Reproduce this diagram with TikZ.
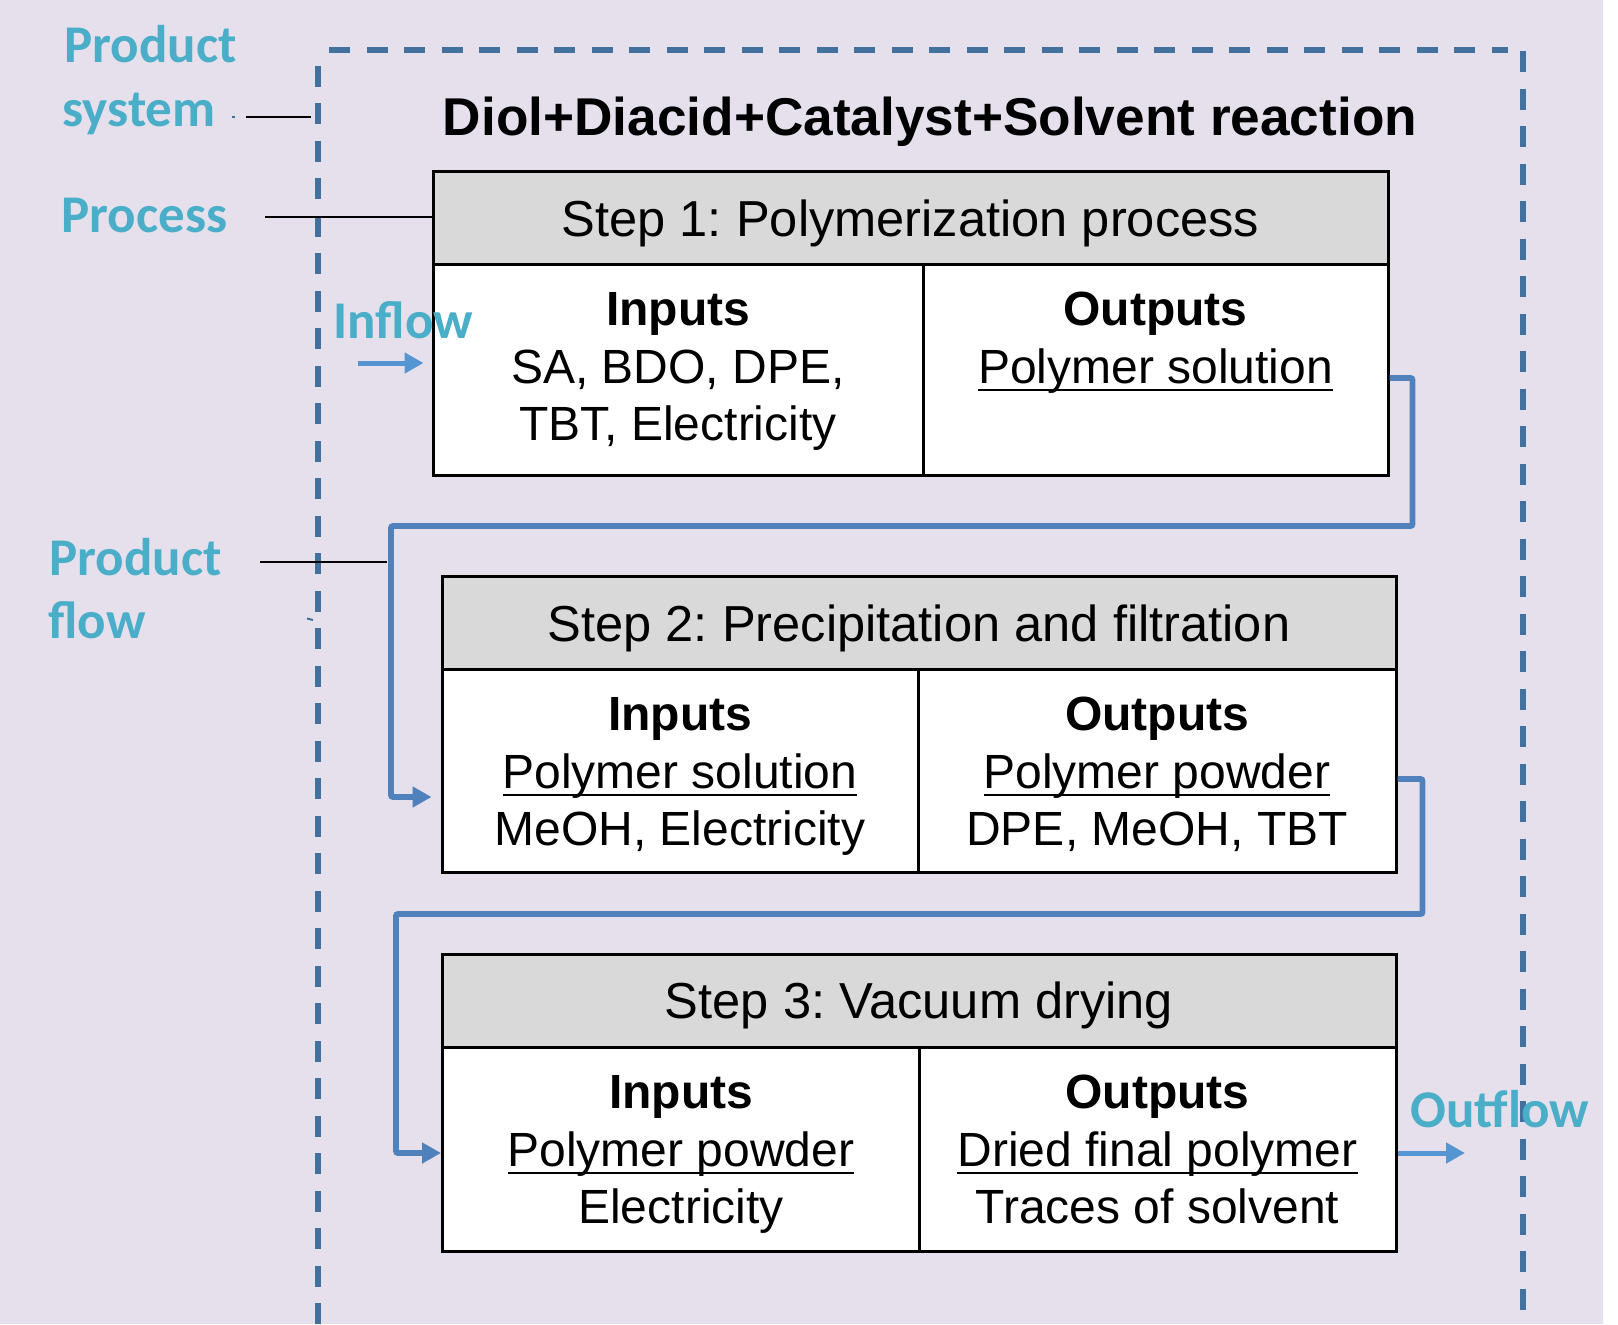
\documentclass[tikz,border=0pt]{standalone}
\usepackage{fontspec}
\setmainfont{Liberation Sans}
\newfontfamily\tagfont{Carlito}
\usetikzlibrary{arrows.meta,fit}
\definecolor{bglilac}{HTML}{E6E0EC}
\definecolor{hdrgray}{HTML}{D9D9D9}
\definecolor{tagblue}{HTML}{4BAEC8}
\definecolor{sysblue}{HTML}{41719C}
\definecolor{flowblue}{HTML}{4F81BD}
\definecolor{edgeblue}{HTML}{5596D2}
% underline at a fixed distance below the baseline (crosses descenders)
\newcommand\undl[1]{\setbox0=\hbox{#1}\rlap{\rule[-4.2pt]{\wd0}{1.1pt}}\box0}
\frenchspacing

\begin{document}
\begin{tikzpicture}[x=0.5pt,y=-0.5pt,
  cellbox/.style={draw=black,line width=1.5pt,fill=white,inner sep=0pt},
  hdrbox/.style={cellbox,fill=hdrgray},
  hdrtext/.style={font=\fontsize{25.3}{30}\selectfont,anchor=base,inner sep=0pt},
  headtext/.style={font=\bfseries\fontsize{24}{29}\selectfont,anchor=base,inner sep=0pt},
  itemtext/.style={font=\fontsize{24}{29}\selectfont,anchor=base,inner sep=0pt},
  tag/.style={font=\tagfont\bfseries\fontsize{26.5}{31}\selectfont,text=tagblue,anchor=base west,inner sep=0pt},
  sysline/.style={draw=sysblue,line width=2.8pt,dash pattern=on 10.5pt off 8.25pt},
  flowline/.style={draw=flowblue,line width=2.9pt,-{Triangle[length=9.5pt,width=10pt]}},
  edgeflow/.style={draw=edgeblue,line width=2.5pt,-{Triangle[length=9.5pt,width=10pt]}},
  leader/.style={draw=black,line width=0.9pt},
]
\useasboundingbox (0,0) rectangle (1618,1324);
\fill[white] (0,0) rectangle (1618,1324);
\fill[bglilac] (0,0) rectangle (1603,1324);

% product system boundary
\draw[sysline] (318,1324) -- (318,55);
\draw[sysline] (329,50) -- (1508,50);
\draw[sysline] (1523,51) -- (1523,1324);

% title
\node[font=\bfseries\fontsize{26.6}{32}\selectfont,anchor=base,inner sep=0pt] (title) at (930,135) {Diol+Diacid+Catalyst+Solvent reaction};

% ---- Step 1 ----
\node[cellbox,fit={(433,264)(923,475)}] (s1i) {};
\node[cellbox,fit={(923,264)(1388,475)}] (s1o) {};
\node[hdrbox,fit={(433,171)(1388,264)}] (s1h) {};
\node[hdrtext] (s1t) at (910.5,236) {Step 1: Polymerization process};
\node[headtext] (s1ia) at (678,325) {Inputs};
\node[itemtext] (s1ib) at (678,383) {SA, BDO, DPE,};
\node[itemtext] (s1ic) at (678,440) {TBT, Electricity};
\node[headtext] (s1oa) at (1155.5,325) {Outputs};
\node[itemtext] (s1ob) at (1155.5,383) {\undl{Polymer solution}};

% ---- Step 2 ----
\node[cellbox,fit={(442,669)(918,872)}] (s2i) {};
\node[cellbox,fit={(918,669)(1396,872)}] (s2o) {};
\node[hdrbox,fit={(442,576)(1396,669)}] (s2h) {};
\node[hdrtext] (s2t) at (919,641) {Step 2: Precipitation and filtration};
\node[headtext] (s2ia) at (680,730) {Inputs};
\node[itemtext] (s2ib) at (680,788) {\undl{Polymer solution}};
\node[itemtext] (s2ic) at (680,845) {MeOH, Electricity};
\node[headtext] (s2oa) at (1157,730) {Outputs};
\node[itemtext] (s2ob) at (1157,788) {\undl{Polymer powder}};
\node[itemtext] (s2oc) at (1157,845) {DPE, MeOH, TBT};

% ---- Step 3 ----
\node[cellbox,fit={(442.5,1047)(919,1251)}] (s3i) {};
\node[cellbox,fit={(919,1047)(1396,1251)}] (s3o) {};
\node[hdrbox,fit={(442.5,954)(1396,1047)}] (s3h) {};
\node[hdrtext] (s3t) at (919,1018) {Step 3: Vacuum drying};
\node[headtext] (s3ia) at (681,1108) {Inputs};
\node[itemtext] (s3ib) at (681,1166) {\undl{Polymer powder}};
\node[itemtext] (s3ic) at (681,1223) {Electricity};
\node[headtext] (s3oa) at (1157.5,1108) {Outputs};
\node[itemtext] (s3ob) at (1157.5,1166) {\undl{Dried final polymer}};
\node[itemtext] (s3oc) at (1157.5,1223) {Traces of solvent};

% ---- legend labels ----
\node[tag] (lsysa) at (64,62) {Product};
\node[tag] (lsysb) at (62,126) {system};
\node[tag] (lproc) at (61,232) {Process};
\node[tag] (lflowa) at (49,575) {Product};
\node[tag] (lflowb) at (48,638) {flow};
\node[tag] (lin) at (333,338) {Inflow};
\node[tag] (lout) at (1410,1127) {Outflow};

% leader lines
\coordinate (sysa) at (246,117);
\coordinate (sysb) at (311,117);
\coordinate (proca) at (265,217);
\coordinate (flowa) at (260,562);
\coordinate (flowb) at (387,562);
\draw[leader] (sysa) -- (sysb);
\draw[leader] (proca) -- (proca -| s1h.west);
\draw[leader] (flowa) -- (flowb);
\draw[sysblue,line width=1pt] (232,117) -- (235,117);
\draw[sysblue,line width=1pt] (307,618.5) -- (313,620);

% product flows between the steps
\draw[flowline,rounded corners=1pt]
  ([yshift=-4.25pt]s1o.east) -- ++(23,0) |- (391,526) |- ([xshift=-4.5pt,yshift=-13.25pt]s2i.west);
\draw[flowline,rounded corners=1pt]
  ([yshift=-4.25pt]s2o.east) -- ++(25,0) |- (396,914) |- ([yshift=-2pt]s3i.west);

% inflow and outflow
\coordinate (inbeg) at (358,363);
\path (s1i.west) ++(-8,0) coordinate (s1iw);
\coordinate (outend) at (1465,1153);
\draw[edgeflow] (inbeg) -- (inbeg -| s1iw);
\draw[edgeflow] ([yshift=-2pt]s3o.east) -- (outend);
\end{tikzpicture}
\end{document}
